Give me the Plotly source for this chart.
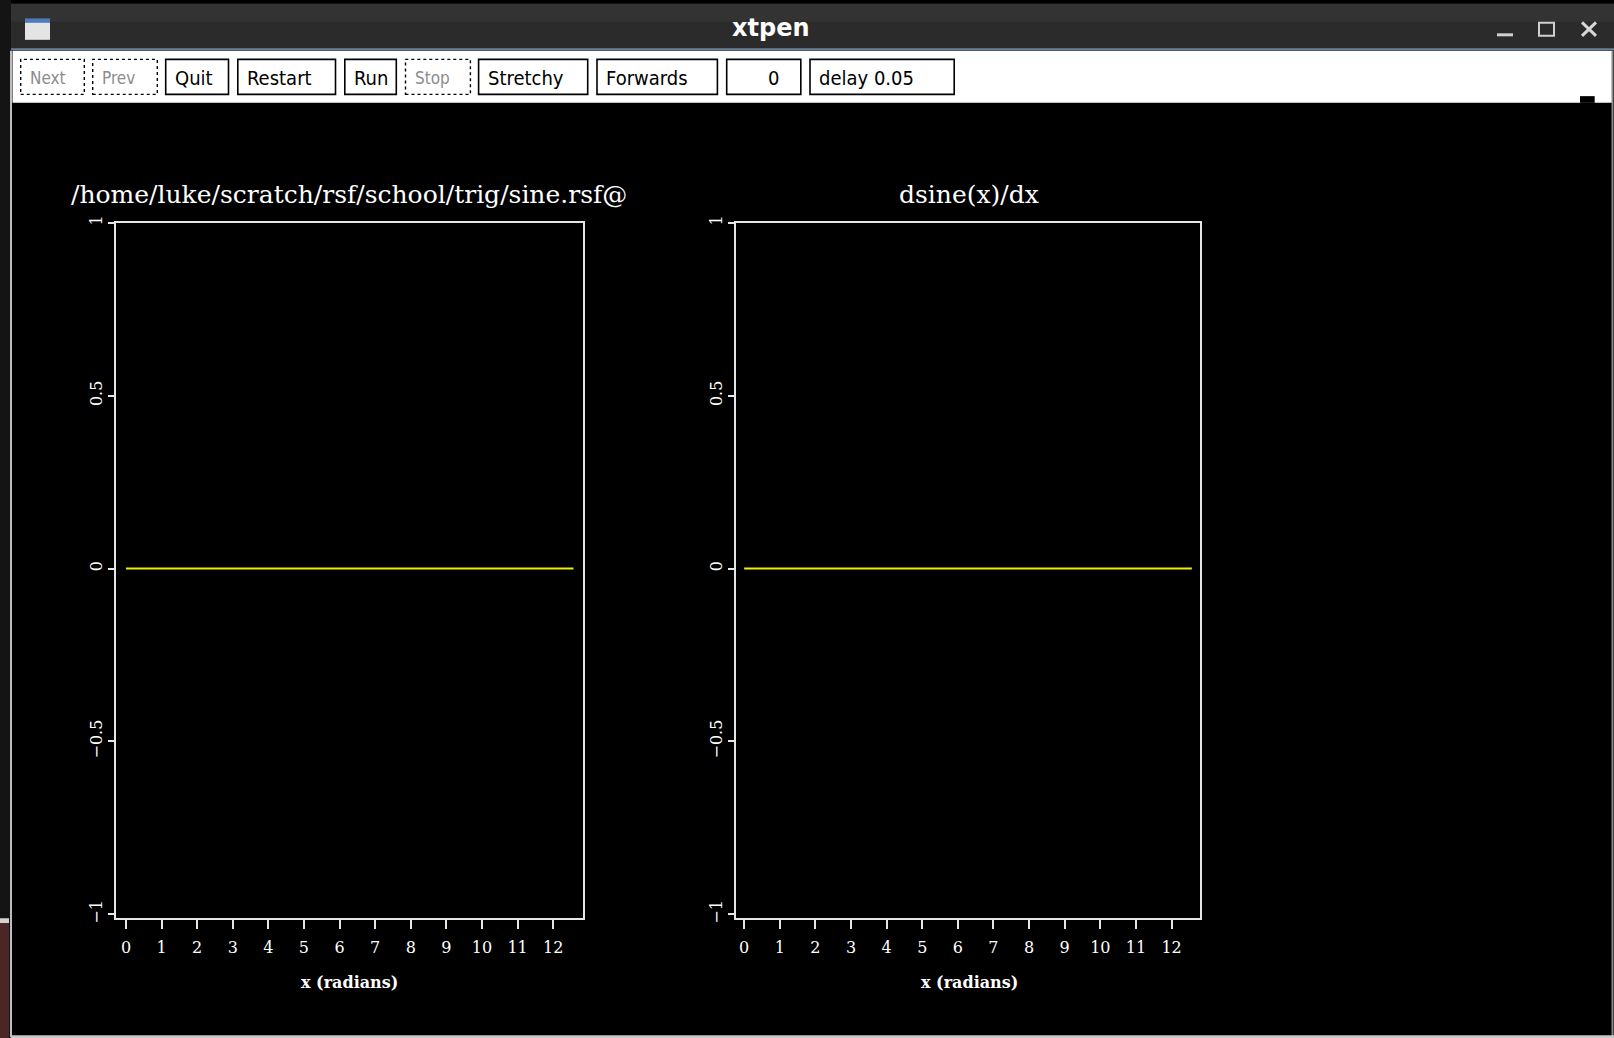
import plotly.graph_objects as go

W, H = 1614, 1038

# ---- data ----
x_rad = [0.0, 12.57]
sine_vals = [0.0, 0.0]
dsine_vals = [0.0, 0.0]
x_ticks = [0, 1, 2, 3, 4, 5, 6, 7, 8, 9, 10, 11, 12]
y_ticks = [-1, -0.5, 0, 0.5, 1]
y_tick_labels = ["−1", "−0.5", "0", "0.5", "1"]
left_title = "/home/luke/scratch/rsf/school/trig/sine.rsf@"
right_title = "dsine(x)/dx"
x_label = "x (radians)"
window_title = "xtpen"
buttons = ["Next", "Prev", "Quit", "Restart", "Run", "Stop", "Stretchy", "Forwards", "0", "delay 0.05"]
buttons_disabled = [True, True, False, False, False, True, False, False, False, False]

# vertical correction for the capture (measured offset/scale)
Y_OFF, Y_SCALE = 5.2, 0.987


def px(x):
    return x / W


def py(y):
    return 1 - ((y - Y_OFF) / Y_SCALE) / H


fig = go.Figure()
fig.add_trace(go.Scatter(x=x_rad, y=sine_vals, mode="lines",
                         line=dict(color="#f0f000", width=2),
                         xaxis="x", yaxis="y", showlegend=False))
fig.add_trace(go.Scatter(x=x_rad, y=dsine_vals, mode="lines",
                         line=dict(color="#f0f000", width=2),
                         xaxis="x2", yaxis="y2", showlegend=False))

tickfont = dict(family="DejaVu Serif", size=16, color="white")
common_x = dict(showgrid=False, zeroline=False, showline=True, mirror=True,
                linecolor="#e6e6e6", linewidth=2, ticks="outside", ticklen=9,
                tickwidth=2, tickcolor="#e6e6e6", tickvals=x_ticks,
                tickfont=tickfont, ticklabelstandoff=5, fixedrange=True)
common_y = dict(showgrid=False, zeroline=False, showline=True, mirror=True,
                linecolor="#e6e6e6", linewidth=2, ticks="outside", ticklen=6,
                tickwidth=2, tickcolor="#e6e6e6", tickvals=y_ticks,
                ticktext=y_tick_labels, tickangle=-90, tickfont=tickfont,
                range=[-1.01, 1.0], fixedrange=True)

y_dom = [py(915.5), py(221)]
fig.update_layout(
    width=W, height=H,
    margin=dict(l=0, r=0, t=0, b=0),
    paper_bgcolor="black", plot_bgcolor="black",
    xaxis=dict(domain=[px(116), px(582.7)], range=[-0.28, 12.83], anchor="y", **common_x),
    yaxis=dict(domain=y_dom, anchor="x", **common_y),
    xaxis2=dict(domain=[px(736.3), px(1200.4)], range=[-0.22, 12.81], anchor="y2", **common_x),
    yaxis2=dict(domain=y_dom, anchor="x2", **common_y),
    showlegend=False,
)

shapes = []
ann = []


def rect(x0, y0, x1, y1, fill=None, line=None, lw=0, dash="solid"):
    shapes.append(dict(type="rect", xref="paper", yref="paper",
                       x0=px(x0), x1=px(x1), y0=py(y1), y1=py(y0),
                       fillcolor=fill if fill else "rgba(0,0,0,0)",
                       line=dict(color=line if line else "rgba(0,0,0,0)", width=lw, dash=dash),
                       layer="above"))


def seg(x0, y0, x1, y1, color, lw):
    shapes.append(dict(type="line", xref="paper", yref="paper",
                       x0=px(x0), x1=px(x1), y0=py(y0), y1=py(y1),
                       line=dict(color=color, width=lw), layer="above"))


# window chrome
rect(0, -20, 11, H + 30, fill="#141414")
rect(0, 916, 9, 921, fill="#d8d0d0")
rect(0, 921, 9, H + 30, fill="#4a2626")
rect(11, 2, W, 48, fill="#2b2b2b")
rect(11, 2, W, 20, fill="#333333")
seg(11, 47.5, W, 47.5, "#6d7f96", 2)
rect(12.5, 49, 1613, 101, fill="white")
seg(11, 49, 11, 1035, "#bdbdbd", 2)
seg(1612.5, 49, 1612.5, 1035, "#8a8a8a", 2)
seg(11, 1034.5, W, 1034.5, "#c8c8c8", 3)
rect(1580, 94.3, 1594.7, 101, fill="black")

# icon
rect(25, 17, 50, 38, fill="#e4e4e4")
rect(25, 17, 50, 21, fill="#4a7cc2")

# window controls
seg(1497, 33, 1513, 33, "#d0d0d0", 3)
rect(1539, 21, 1554, 34, line="#d0d0d0", lw=2)
seg(1582, 20.5, 1596, 34, "#d8d8d8", 3)
seg(1582, 34, 1596, 20.5, "#d8d8d8", 3)

ann.append(dict(text="<b>" + window_title + "</b>", x=px(771), y=py(26), xref="paper", yref="paper",
                showarrow=False, xanchor="center", yanchor="middle",
                font=dict(family="DejaVu Sans", size=24, color="white")))

# toolbar buttons
btn_x = [(20.7, 84.3), (92.7, 157.3), (165.7, 228.5), (237.8, 335.5), (344.8, 396.3),
         (405.5, 470.4), (478.6, 587.7), (597.0, 717.4), (726.7, 800.8), (810.0, 954.2)]
for (x0, x1), label, dis in zip(btn_x, buttons, buttons_disabled):
    rect(x0, 57.5, x1, 92.5, line="black", lw=1.6 if not dis else 1.4,
         dash="dot" if dis else "solid")
    if label == "0":
        ann.append(dict(text=label, x=px(x1 - 20), y=py(76), xref="paper", yref="paper",
                        showarrow=False, xanchor="right", yanchor="middle",
                        font=dict(family="DejaVu Sans Condensed, Liberation Sans Narrow, sans-serif",
                                  size=20, color="black")))
    else:
        ann.append(dict(text=label, x=px(x0 + 7), y=py(76), xref="paper", yref="paper",
                        showarrow=False, xanchor="left", yanchor="middle",
                        font=dict(family="DejaVu Sans Condensed, Liberation Sans Narrow, sans-serif",
                                  size=20 if not dis else 17,
                                  color="black" if not dis else "#8c8c8c")))

# plot titles and axis labels
for cx, title in [(349, left_title), (968.6, right_title)]:
    ann.append(dict(text=title, x=px(cx), y=py(192.5), xref="paper", yref="paper",
                    showarrow=False, xanchor="center", yanchor="middle",
                    font=dict(family="DejaVu Serif", size=25, color="white")))
for cx in [349, 969]:
    ann.append(dict(text="<b>" + x_label + "</b>", x=px(cx), y=py(980), xref="paper", yref="paper",
                    showarrow=False, xanchor="center", yanchor="middle",
                    font=dict(family="DejaVu Serif", size=16, color="white")))

fig.update_layout(shapes=shapes, annotations=ann)
post = (
    "document.documentElement.style.margin='0';"
    "document.documentElement.style.padding='0';"
    "document.documentElement.style.overflow='hidden';"
    "document.body.style.margin='0';"
    "document.body.style.padding='0';"
    "document.body.style.overflow='hidden';"
    "document.body.style.background='black';"
)
fig.write_html("out.html", config={"displayModeBar": False}, post_script=post)
